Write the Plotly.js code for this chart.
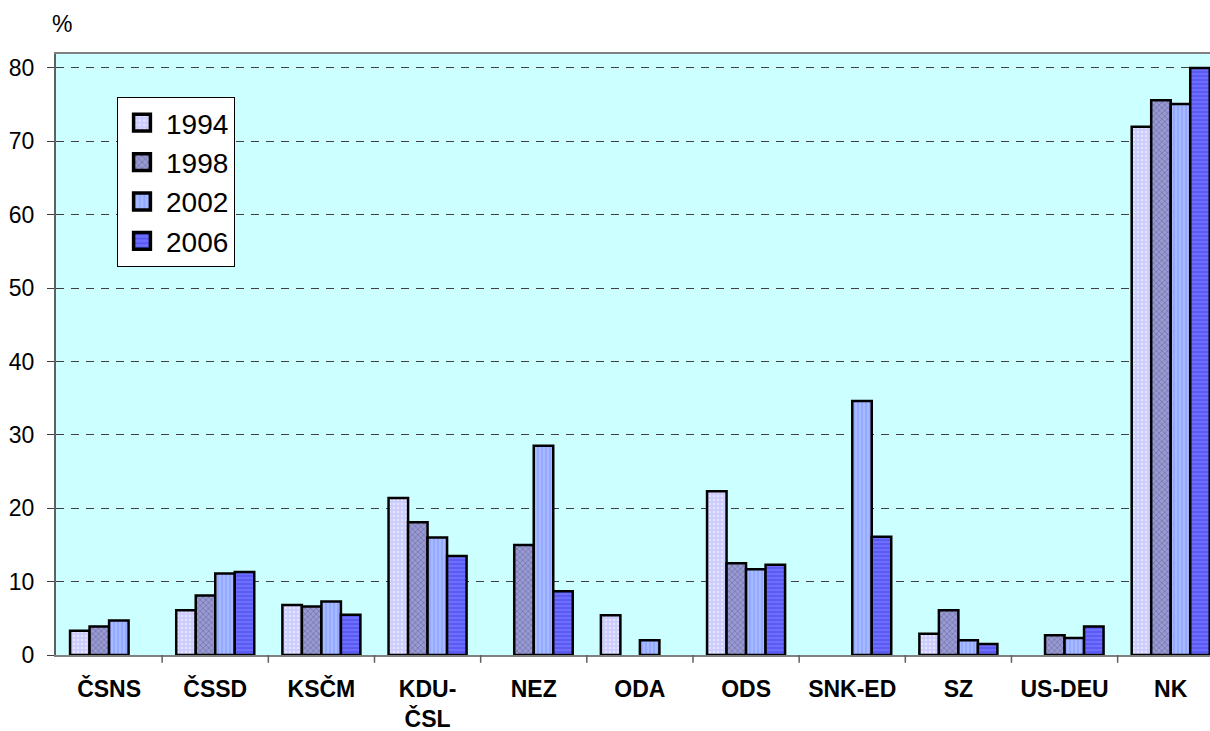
<!DOCTYPE html>
<html>
<head>
<meta charset="utf-8">
<script src="https://cdn.plot.ly/plotly-3.0.1.min.js"></script>
<style>
  html, body { margin: 0; padding: 0; background: #ffffff; }
  #chart { width: 1210px; height: 731px; }
</style>
</head>
<body>
<div id="chart"></div>
<script>
// ---- data ----
const categories = ['ČSNS', 'ČSSD', 'KSČM', 'KDU-ČSL', 'NEZ', 'ODA', 'ODS', 'SNK-ED', 'SZ', 'US-DEU', 'NK'];
const tickLabels = ['ČSNS', 'ČSSD', 'KSČM', 'KDU-<br>ČSL', 'NEZ', 'ODA', 'ODS', 'SNK-ED', 'SZ', 'US-DEU', 'NK'];
const seriesNames = ['1994', '1998', '2002', '2006'];
const v1994 = [3.3, 6.1, 6.8, 21.4, null, 5.4, 22.3, null, 2.9, null, 72.0];
const v1998 = [3.9, 8.1, 6.6, 18.1, 15.0, null, 12.5, null, 6.1, 2.7, 75.6];
const v2002 = [4.7, 11.1, 7.3, 16.0, 28.5, 2.0, 11.7, 34.6, 2.0, 2.3, 75.1];
const v2006 = [null, 11.3, 5.5, 13.5, 8.7, null, 12.3, 16.1, 1.5, 3.9, 80.0];
const yTicks = [0, 10, 20, 30, 40, 50, 60, 70, 80];

const values = [v1994, v1998, v2002, v2006];
const styles = [
  {bg: '#CCCCFF', fg: '#E4E4FF', shape: '.', size: 4, solidity: 0.3},
  {bg: '#9A9AD2', fg: '#6C6CA8', shape: 'x', size: 4, solidity: 0.3},
  {bg: '#A6BAFF', fg: '#8CA2FF', shape: '|', size: 4, solidity: 0.35},
  {bg: '#6E6EFF', fg: '#5252EE', shape: '-', size: 4, solidity: 0.35}
];

const xIdx = categories.map((c, i) => i);

const traces = seriesNames.map((name, k) => ({
  type: 'bar',
  name: name,
  x: xIdx,
  y: values[k],
  marker: {
    color: styles[k].bg,
    line: {color: '#000000', width: 2.5},
    pattern: {
      shape: styles[k].shape,
      bgcolor: styles[k].bg,
      fgcolor: styles[k].fg,
      size: styles[k].size,
      solidity: styles[k].solidity,
      fillmode: 'replace'
    }
  },
  hoverinfo: 'x+y'
}));

const font = 'Arial, "Liberation Sans", sans-serif';

const layout = {
  width: 1210,
  height: 731,
  margin: {l: 56, r: 0, t: 54, b: 76, pad: 0, autoexpand: false},
  paper_bgcolor: '#ffffff',
  plot_bgcolor: '#CCFFFF',
  barmode: 'group',
  bargap: 0.265,
  bargroupgap: 0,
  font: {family: font, color: '#000000'},
  showlegend: true,
  legend: {
    x: (117 - 56) / 1154, xref: 'paper',
    y: (655 - 97) / 601, yref: 'paper',
    xanchor: 'left', yanchor: 'top',
    bgcolor: '#ffffff',
    bordercolor: '#000000',
    borderwidth: 1,
    itemwidth: 38,
    font: {family: font, size: 28, color: '#000000'},
    traceorder: 'normal'
  },
  xaxis: {
    type: 'linear',
    range: [-0.5, 10.37],
    tickmode: 'array',
    tickvals: xIdx,
    ticktext: tickLabels,
    showgrid: false,
    zeroline: false,
    showline: true,
    mirror: true,
    linecolor: '#808080',
    linewidth: 2,
    ticks: '',
    tickfont: {family: font, size: 23, color: '#000000', weight: 'bold'},
    ticklabelstandoff: 12,
    fixedrange: true
  },
  yaxis: {
    range: [0, 81.9],
    tickmode: 'array',
    tickvals: yTicks,
    ticktext: yTicks.map(String),
    showgrid: true,
    gridcolor: '#404040',
    gridwidth: 1,
    griddash: '8px,7px',
    zeroline: false,
    showline: true,
    linecolor: '#606060',
    linewidth: 2,
    ticks: 'outside',
    ticklen: 7,
    tickcolor: '#404040',
    tickwidth: 1,
    tickfont: {family: font, size: 23, color: '#000000'},
    ticklabelstandoff: 8,
    fixedrange: true
  },
  shapes: categories.map((c, i) => ({
    type: 'line', xref: 'x', yref: 'paper',
    x0: i + 0.5, x1: i + 0.5, y0: 0, y1: -0.013,
    line: {color: '#606060', width: 1.5}
  })),
  annotations: [{
    text: '%', xref: 'paper', yref: 'paper',
    x: (62 - 56) / 1154, y: (655 - 24) / 601,
    xanchor: 'center', yanchor: 'middle',
    showarrow: false,
    font: {family: font, size: 23, color: '#000000'}
  }]
};

Plotly.newPlot('chart', traces, layout, {displayModeBar: false, staticPlot: true}).then(function (gd) {
  // enlarge legend swatches to match the reference's larger squares
  gd.querySelectorAll('.legend .legendpoints path').forEach(function (p) {
    const t = p.getAttribute('transform') || '';
    p.setAttribute('transform', t + ' scale(1.4)');
  });
});
</script>
</body>
</html>
